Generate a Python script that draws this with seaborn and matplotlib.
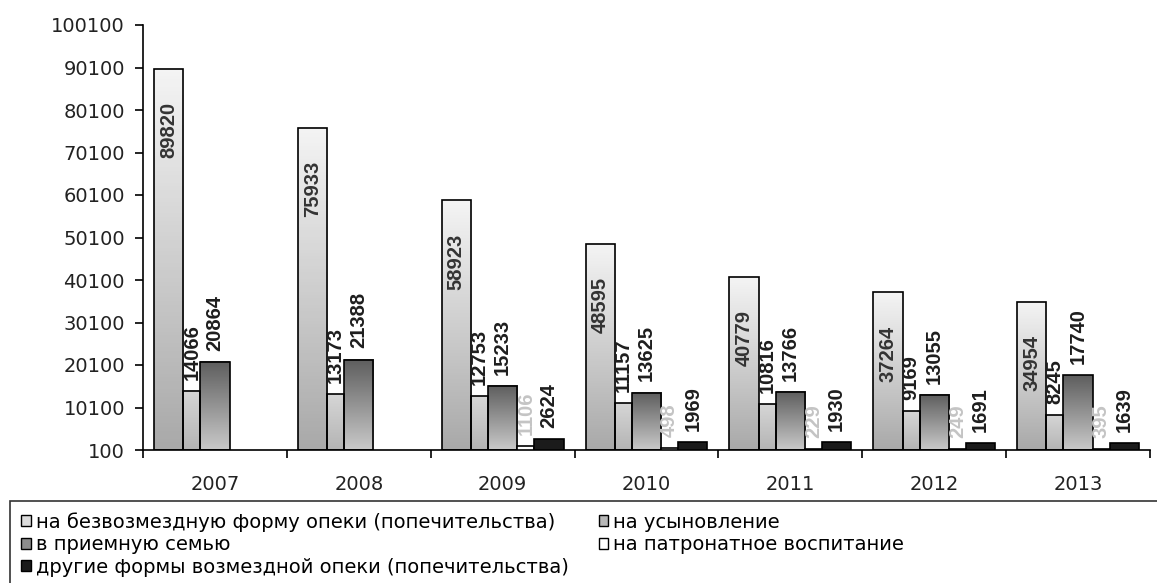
import numpy as np
import pandas as pd
import seaborn as sns
import matplotlib
matplotlib.use("Agg")
import matplotlib.pyplot as plt
from matplotlib.patches import Patch, Rectangle
from matplotlib.colors import LinearSegmentedColormap

# data
years = ["2007", "2008", "2009", "2010", "2011", "2012", "2013"]
series = [
    "на безвозмездную форму опеки (попечительства)",
    "на усыновление",
    "в приемную семью",
    "на патронатное воспитание",
    "другие формы возмездной опеки (попечительства)",
]
guardianship = [89820, 75933, 58923, 48595, 40779, 37264, 34954]
adoption = [14066, 13173, 12753, 11157, 10816, 9169, 8245]
foster = [20864, 21388, 15233, 13625, 13766, 13055, 17740]
patronage = [np.nan, np.nan, 1106, 498, 229, 249, 395]
other_paid = [np.nan, np.nan, 2624, 1969, 1930, 1691, 1639]
yticks = list(range(100, 100101, 10000))

values = [guardianship, adoption, foster, patronage, other_paid]
df = pd.DataFrame({
    "year": np.tile(years, len(series)),
    "series": np.repeat(series, len(years)),
    "value": np.concatenate(values),
})

# gradient (top, bottom) per series, None = flat fill
grads = [("#f4f4f4", "#a9a9a9"), ("#d6d6d6", "#b4b4b4"), ("#5e5e5e", "#c9c9c9"), None, None]
flat = [None, None, None, "#ffffff", "#1b1b1b"]
legend_fc = ["#dcdcdc", "#b8b8b8", "#8c8c8c", "#ffffff", "#1b1b1b"]
# bar widths alternate wide / narrow like the original
rel_w = np.array([29, 17, 29, 17, 29]) / 143.0
total_w = rel_w.sum()

fig = plt.figure(figsize=(11.57, 5.83), dpi=100)
ax = fig.add_axes([143 / 1157, 133 / 583, 1007 / 1157, 425 / 583])

sns.barplot(data=df, x="year", y="value", hue="series", order=years,
            hue_order=series, width=total_w, dodge=True, legend=False,
            edgecolor="black", linewidth=1.2, ax=ax, err_kws={"linewidth": 0})

ax.set_xlim(-0.5, 6.5)
ax.set_ylim(100, 100100)

left_edges = np.concatenate([[0], np.cumsum(rel_w)[:-1]])
for i, cont in enumerate(ax.containers):
    for bar in cont:
        h = bar.get_height()
        if np.isnan(h):
            continue
        j = int(round(bar.get_x() + bar.get_width() / 2))
        bar.set_x(j - total_w / 2 + left_edges[i])
        bar.set_width(rel_w[i])
        bar.set_zorder(3)
        x0, x1 = bar.get_x(), bar.get_x() + bar.get_width()
        if grads[i] is not None:
            bar.set_facecolor("none")
            cmap = LinearSegmentedColormap.from_list("g", [grads[i][1], grads[i][0]])
            ax.imshow(np.linspace(0, 1, 100).reshape(-1, 1), cmap=cmap,
                      extent=[x0, x1, 100, h], origin="lower",
                      aspect="auto", zorder=2)
        else:
            bar.set_facecolor(flat[i])
        # value labels
        cx = (x0 + x1) / 2
        if i == 0:
            ax.annotate(f"{int(h)}", (cx, h), xytext=(0, -24), textcoords="offset points",
                        rotation=90, ha="center", va="top", fontsize=14.5,
                        fontweight="bold", color="#333333", family="Liberation Sans", zorder=5)
        else:
            col = "#c4c4c4" if i == 3 else "#1e1e1e"
            ax.annotate(f"{int(h)}", (cx, h), xytext=(0, 8), textcoords="offset points",
                        rotation=90, ha="center", va="bottom", fontsize=14.5,
                        fontweight="bold", color=col, family="Liberation Sans", zorder=5)

ax.set_xlim(-0.5, 6.5)
ax.set_ylim(100, 100100)
ax.set_yticks(yticks)
ax.set_yticklabels([str(t) for t in yticks])
ax.set_xticks(range(len(years)))
ax.set_xticklabels(years)
ax.set_xticks(np.arange(-0.5, 7, 1), minor=True)
ax.tick_params(axis="x", which="major", length=0, pad=18, labelsize=14, labelcolor="#222222")
ax.tick_params(axis="x", which="minor", length=6, width=1.2, direction="out")
ax.tick_params(axis="y", length=6, width=1.2, pad=7, labelsize=14, labelcolor="#222222")
ax.set_xlabel("")
ax.set_ylabel("")
for s in ["top", "right"]:
    ax.spines[s].set_visible(False)
for s in ["left", "bottom"]:
    ax.spines[s].set_linewidth(1.2)
ax.set_facecolor("white")

# legend, row order: g, a / f, p / o
handles = [Patch(facecolor=legend_fc[k], edgecolor="black", linewidth=1) for k in range(5)]
order = [0, 2, 4, 1, 3]
fig.legend([handles[k] for k in order], [series[k] for k in order],
           loc="upper left", bbox_to_anchor=(21 / 1157, 1 - 512 / 583), ncol=2,
           frameon=False, handlelength=0.5, handleheight=0.5,
           handletextpad=0.25, labelspacing=0.18, columnspacing=1.55,
           borderpad=0, borderaxespad=0, prop={"family": "DejaVu Sans", "size": 14})
fig.add_artist(Rectangle((10 / 1157, -0.2), 1.2, 0.2 + 82 / 583, transform=fig.transFigure,
                         facecolor="none", edgecolor="#333333", linewidth=1.2))

fig.savefig("out.png", dpi=100, facecolor="white")
